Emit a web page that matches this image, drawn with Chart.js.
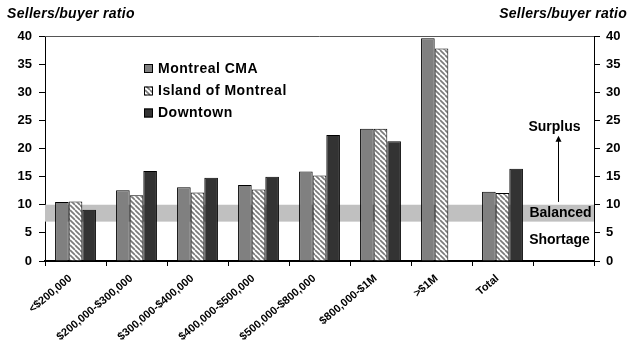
<!DOCTYPE html>
<html>
<head>
<meta charset="utf-8">
<script src="https://cdn.jsdelivr.net/npm/chart.js@4/dist/chart.umd.min.js"></script>
<style>
html,body{margin:0;padding:0;background:#fff;}
canvas{display:block;}
</style>
</head>
<body>
<canvas id="c" width="630" height="350"></canvas>
<script>
// ---- data ----
const categories = ['<$200,000','$200,000-$300,000','$300,000-$400,000','$400,000-$500,000','$500,000-$800,000','$800,000-$1M','>$1M','Total',''];
const montrealCMA = [10.5, 12.6, 13.1, 13.5, 15.9, 23.5, 39.6, 12.3, null];
const islandOfMontreal = [10.6, 11.7, 12.2, 12.7, 15.2, 23.5, 37.8, 12.1, null];
const downtown = [9.1, 16.0, 14.8, 15.0, 22.4, 21.3, null, 16.4, null];
const seriesNames = ['Montreal CMA', 'Island of Montreal', 'Downtown'];
const yTicks = [0, 5, 10, 15, 20, 25, 30, 35, 40];
const balancedBand = [7, 10];
const axisTitle = 'Sellers/buyer ratio';
const zoneLabels = {surplus: 'Surplus', balanced: 'Balanced', shortage: 'Shortage'};
const zoneLabelValues = {surplus: 23.8, balanced: 8.5, shortage: 3.7};
const arrowRange = [10.5, 22.1];

const FONT = "Arial, 'Liberation Sans', sans-serif";

function hatch() {
  const s = 5;
  const cv = document.createElement('canvas');
  cv.width = s; cv.height = s;
  const g = cv.getContext('2d');
  g.fillStyle = '#fff';
  g.fillRect(0, 0, s, s);
  g.strokeStyle = '#7a7a7a';
  g.lineWidth = 1.7;
  for (const o of [-s, 0, s]) {
    g.beginPath();
    g.moveTo(o, 0);
    g.lineTo(o + s, s);
    g.stroke();
  }
  return g.createPattern(cv, 'repeat');
}
const ctx = document.getElementById('c').getContext('2d');
const hatchPattern = hatch();

const decor = {
  id: 'decor',
  beforeDatasetsDraw(chart) {
    const {ctx, chartArea: a, scales: {y}} = chart;
    const y1 = y.getPixelForValue(balancedBand[1]);
    const y0 = y.getPixelForValue(balancedBand[0]);
    ctx.save();
    ctx.fillStyle = '#c0c0c0';
    ctx.fillRect(a.left, y1, a.right - a.left, y0 - y1);
    ctx.strokeStyle = '#555';
    ctx.lineWidth = 1;
    ctx.beginPath();
    ctx.moveTo(a.left, Math.round(a.top) + 0.5);
    ctx.lineTo(a.right, Math.round(a.top) + 0.5);
    ctx.stroke();
    ctx.restore();
  },
  afterDraw(chart) {
    const {ctx, chartArea: a, scales: {x, y}} = chart;
    ctx.save();
    // axis titles
    ctx.fillStyle = '#000';
    ctx.font = "italic bold 14px " + FONT;
    ctx.textBaseline = 'middle';
    ctx.textAlign = 'left';
    try { ctx.letterSpacing = '0.3px'; } catch (e) {}
    ctx.fillText(axisTitle, 7, 14);
    ctx.textAlign = 'right';
    ctx.fillText(axisTitle, 627, 14);
    try { ctx.letterSpacing = '0px'; } catch (e) {}

    // zone labels in the last (empty) category
    const cx = x.getPixelForValue(categories.length - 1);
    ctx.font = "bold 14px " + FONT;
    ctx.textAlign = 'center';
    ctx.fillText(zoneLabels.surplus, cx - 9, y.getPixelForValue(zoneLabelValues.surplus));
    ctx.fillText(zoneLabels.balanced, cx - 3, y.getPixelForValue(zoneLabelValues.balanced));
    ctx.fillText(zoneLabels.shortage, cx - 4, y.getPixelForValue(zoneLabelValues.shortage));

    // arrow
    const ax = Math.round(cx - 6) + 0.5;
    const yb = y.getPixelForValue(arrowRange[0]);
    const yt = y.getPixelForValue(arrowRange[1]);
    ctx.strokeStyle = '#000';
    ctx.lineWidth = 1;
    ctx.beginPath();
    ctx.moveTo(ax, yb);
    ctx.lineTo(ax, yt + 3);
    ctx.stroke();
    ctx.fillStyle = '#000';
    ctx.beginPath();
    ctx.moveTo(ax, yt - 1);
    ctx.lineTo(ax - 3, yt + 5);
    ctx.lineTo(ax + 3, yt + 5);
    ctx.closePath();
    ctx.fill();

    // legend
    const lx = 144, rows = [68.5, 91, 113];
    chart.data.datasets.forEach((ds, i) => {
      const ry = rows[i];
      ctx.fillStyle = ds.backgroundColor;
      ctx.fillRect(lx, ry - 4.5, 9, 9);
      ctx.strokeStyle = '#000';
      ctx.lineWidth = 1;
      ctx.strokeRect(lx + 0.5, ry - 4.5 + 0.5, 8, 8);
      ctx.fillStyle = '#000';
      ctx.font = "bold 14px " + FONT;
      ctx.textAlign = 'left';
      ctx.textBaseline = 'middle';
      try { ctx.letterSpacing = '0.5px'; } catch (e) {}
      ctx.fillText(ds.label, lx + 14, ry + 0.5);
      try { ctx.letterSpacing = '0px'; } catch (e) {}
    });
    ctx.restore();
  }
};

const yAxisBase = (pos, width, pad) => ({
  type: 'linear',
  position: pos,
  min: 0, max: 40,
  afterBuildTicks(s) { s.ticks = yTicks.map(v => ({value: v})); },
  afterFit(s) { s.width = width; },
  grid: {display: true, drawOnChartArea: false, drawTicks: true, tickLength: 6, color: '#000'},
  border: {display: true, color: '#000', width: 1},
  ticks: {color: '#000', font: {family: FONT, size: 13, weight: 'bold'}, padding: pad}
});

new Chart(ctx, {
  type: 'bar',
  plugins: [decor],
  data: {
    labels: categories,
    datasets: [
      {label: seriesNames[0], data: montrealCMA, backgroundColor: '#808080', borderColor: '#000', borderWidth: 1, yAxisID: 'y'},
      {label: seriesNames[1], data: islandOfMontreal, backgroundColor: hatchPattern, borderColor: '#000', borderWidth: 1, yAxisID: 'y'},
      {label: seriesNames[2], data: downtown, backgroundColor: '#333333', borderColor: '#000', borderWidth: 1, yAxisID: 'y'}
    ]
  },
  options: {
    responsive: false,
    animation: false,
    events: [],
    layout: {padding: {top: 36, left: 0, right: 0, bottom: 0}},
    datasets: {bar: {categoryPercentage: 0.67, barPercentage: 1.0}},
    plugins: {legend: {display: false}, tooltip: {enabled: false}, title: {display: false}},
    scales: {
      x: {
        type: 'category',
        afterFit(s) { s.height = 89; },
        grid: {display: true, drawOnChartArea: false, drawTicks: true, tickLength: 5, offset: true, color: '#000'},
        border: {display: true, color: '#000', width: 2},
        ticks: {color: '#000', font: {family: FONT, size: 11, weight: 'bold'}, minRotation: 40, maxRotation: 40, autoSkip: false, padding: 6, labelOffset: -5}
      },
      y: yAxisBase('left', 45, 7),
      y2: yAxisBase('right', 36, 6)
    }
  }
});
</script>
</body>
</html>
